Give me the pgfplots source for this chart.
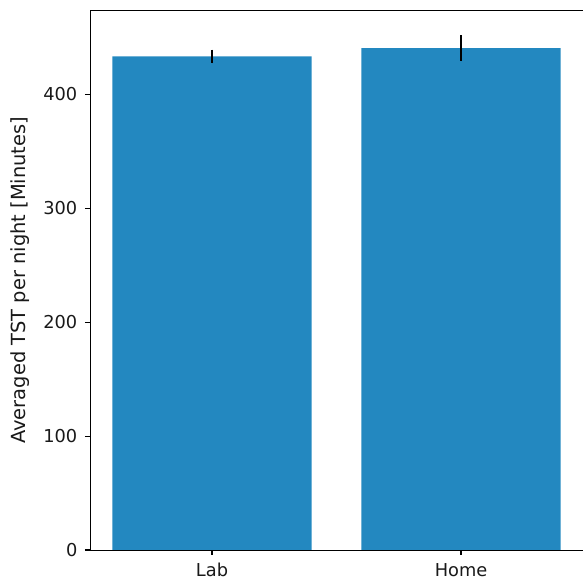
\documentclass[border=0pt]{standalone}
\usepackage{pgfplots}
\pgfplotsset{compat=1.18}
\usepackage{fontspec}
\setmainfont{DejaVu Sans}
\definecolor{barblue}{RGB}{35,136,192}
\begin{document}
\begin{tikzpicture}
\begin{axis}[
  at={(0,0)}, anchor=south west,
  scale only axis,
  width=355pt, height=388.4pt,
  xmin=-0.49, xmax=1.49,
  ymin=0, ymax=473.5,
  xtick={0,1}, xticklabels={Lab,Home},
  ytick={0,100,200,300,400},
  tick align=outside,
  major tick length=3.6pt,
  tick style={black, line width=0.8pt},
  axis line style={line width=0.7pt},
  xtick pos=bottom, ytick pos=left,
  /pgf/number format/assume math mode=true,
  ticklabel style={font=\fontsize{12.8pt}{14pt}\selectfont, text=black!90},
  xticklabel style={yshift=-2.5pt},
  yticklabel style={xshift=-2pt},
  ylabel={Averaged TST per night [Minutes]},
  ylabel style={at={(axis description cs:-0.1416,0.5)}, anchor=center, font=\fontsize{14pt}{16pt}\selectfont, text=black!90},
]
\addplot[ybar, bar width=0.8, fill=barblue, draw=none,
  error bars/.cd, y dir=both, y explicit,
  error bar style={black, line width=2pt}, error mark=none]
  coordinates {(0,433.2) +- (0,6.1) (1,440.5) +- (0,11.3)};
\end{axis}
\pgfresetboundingbox
\useasboundingbox (-64.8pt,-23.04pt) rectangle (354.96pt,396pt);
\end{tikzpicture}
\end{document}
